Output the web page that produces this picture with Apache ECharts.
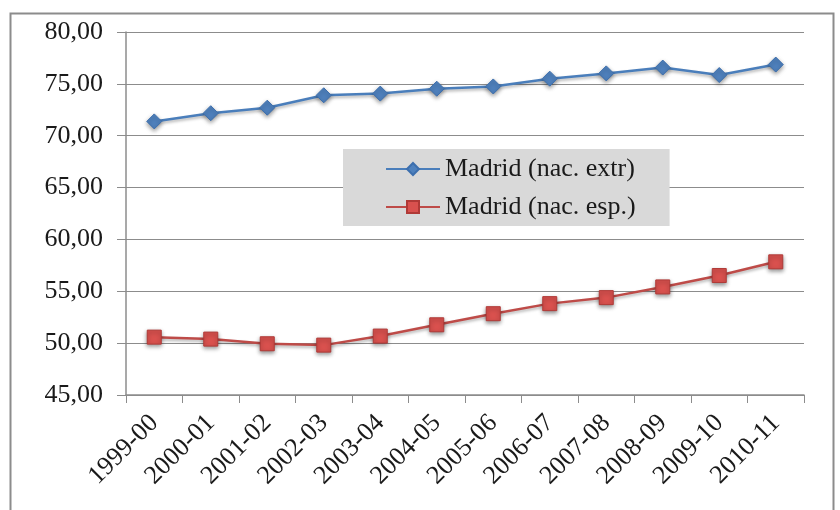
<!DOCTYPE html>
<html>
<head>
<meta charset="utf-8">
<script src="https://cdn.jsdelivr.net/npm/echarts@6/dist/echarts.min.js"></script>
<style>
  html, body { margin: 0; padding: 0; background: #fff; }
  #chart { width: 840px; height: 510px; }
</style>
</head>
<body>
<div id="chart"></div>
<script>
// School years on the category axis
const cursos = ['1999-00', '2000-01', '2001-02', '2002-03', '2003-04', '2004-05',
                '2005-06', '2006-07', '2007-08', '2008-09', '2009-10', '2010-11'];

// Madrid, foreign-born nationality
const madridExtr = [71.38, 72.17, 72.70, 73.90, 74.06, 74.53, 74.75, 75.50, 76.01, 76.57, 75.85, 76.86];

// Madrid, Spanish nationality
const madridEsp = [50.58, 50.39, 49.94, 49.81, 50.68, 51.77, 52.84, 53.81, 54.39, 55.42, 56.52, 57.84];

// Value axis range
const yMin = 45, yMax = 80, yStep = 5;

const serif = '"Liberation Serif", "Times New Roman", serif';
const chart = echarts.init(document.getElementById('chart'));

chart.setOption({
  animation: false,
  backgroundColor: '#ffffff',
  graphic: [{
    type: 'rect',
    shape: { x: 10.5, y: 13.5, width: 823, height: 520 },
    style: { fill: 'none', stroke: '#8c8c8c', lineWidth: 2 },
    silent: true
  }],
  grid: { left: 126, right: 36, top: 32, bottom: 115 },
  legend: {
    orient: 'vertical',
    left: 343,
    top: 149,
    backgroundColor: '#d9d9d9',
    padding: [7, 34, 6, 42],
    itemGap: 12,
    itemWidth: 54,
    itemHeight: 15,
    textStyle: { fontFamily: serif, fontSize: 26, color: '#1a1a1a' },
    data: ['Madrid (nac. extr)', 'Madrid (nac. esp.)']
  },
  xAxis: {
    type: 'category',
    data: cursos,
    boundaryGap: true,
    axisLine: { lineStyle: { color: '#8c8c8c', width: 1.5 } },
    axisTick: { show: true, length: 8, lineStyle: { color: '#8c8c8c' } },
    axisLabel: {
      rotate: 45,
      fontFamily: serif,
      fontSize: 26,
      color: '#1a1a1a',
      margin: 24,
      interval: 0
    }
  },
  yAxis: {
    type: 'value',
    min: yMin,
    max: yMax,
    interval: yStep,
    axisLine: { show: true, lineStyle: { color: '#8c8c8c', width: 1.5 } },
    axisTick: { show: true, length: 9, lineStyle: { color: '#8c8c8c' } },
    splitLine: { lineStyle: { color: '#8c8c8c', width: 1.2 } },
    axisLabel: {
      fontFamily: serif,
      fontSize: 26,
      color: '#1a1a1a',
      margin: 23,
      formatter: v => v.toFixed(2).replace('.', ',')
    }
  },
  series: [
    {
      name: 'Madrid (nac. extr)',
      type: 'line',
      data: madridExtr,
      symbol: 'diamond',
      symbolSize: 15,
      lineStyle: { color: '#4a7ebb', width: 2.5, shadowColor: 'rgba(0,0,0,0.3)', shadowBlur: 3, shadowOffsetY: 2 },
      itemStyle: {
        color: '#4f81bd',
        borderColor: '#3d6fae',
        borderWidth: 1,
        shadowColor: 'rgba(0,0,0,0.4)',
        shadowBlur: 4,
        shadowOffsetY: 2
      }
    },
    {
      name: 'Madrid (nac. esp.)',
      type: 'line',
      data: madridEsp,
      symbol: 'rect',
      symbolSize: 14,
      lineStyle: { color: '#be4b48', width: 2.5, shadowColor: 'rgba(0,0,0,0.3)', shadowBlur: 3, shadowOffsetY: 2 },
      itemStyle: {
        color: '#d9514e',
        borderColor: '#b03a37',
        borderWidth: 1,
        shadowColor: 'rgba(0,0,0,0.4)',
        shadowBlur: 4,
        shadowOffsetY: 2
      }
    }
  ]
});
</script>
</body>
</html>
